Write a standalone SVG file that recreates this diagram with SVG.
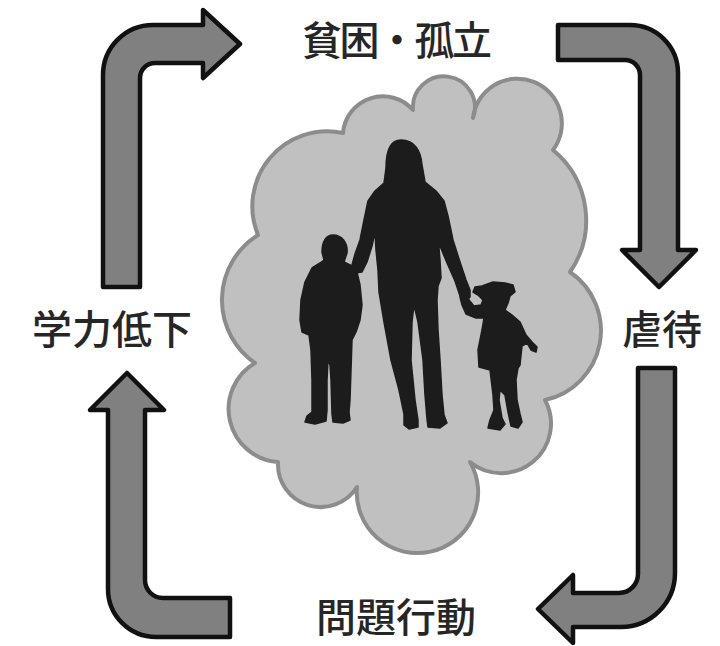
<svg xmlns="http://www.w3.org/2000/svg" width="720" height="646" viewBox="0 0 720 646">
  <style>
    .label { font-family: "Noto Sans CJK JP", "Noto Sans CJK SC", sans-serif; font-size: 40px; font-weight: 500; fill: #262626; text-anchor: middle; }
    .cycle { fill: #808080; stroke: #111111; stroke-width: 4.5; stroke-linejoin: round; }
    .cloud { fill: #c0c0c0; stroke: #8c8c8c; stroke-width: 4; stroke-linejoin: round; }
    .figure { fill: #1c1c1c; stroke: #1c1c1c; stroke-width: 1.5; stroke-linejoin: round; }
  </style>
  <rect width="720" height="646" fill="#ffffff"/>

  <!-- centre: family inside a cloud -->
  <g id="family">
    <path class="cloud" d="M 343,133 A 40,40 0 0 1 413,110 A 31,31 0 1 1 473,118 A 44.6,44.6 0 1 1 553,150 A 91,91 0 0 1 570,272 A 71,71 0 0 1 545,400 A 49.6,49.6 0 0 1 470,462 A 60.7,60.7 0 1 1 357,487 A 42.8,42.8 0 0 1 278,462 A 53.2,53.2 0 0 1 255,363 A 76.6,76.6 0 0 1 258,235 A 75,75 0 0 1 343,133 Z"/>
    <!-- mother -->
    <path class="figure" d="M 401,140 C 414,140 421,150 422,165 L 425,182 L 436,191 L 444,201 L 448,216 L 453,240 L 460,262 L 466,280 L 470,290 L 470,297 L 465,300 L 460,296 L 455,281 L 447,263 L 440,246 L 438,236 L 440,260 L 441,278 L 438,286 L 437,300 L 438,330 L 440,360 L 442,395 L 444,415 L 447,423 L 440,428 L 428,427 L 427,419 L 425,395 L 423,360 L 418,322 L 414,305 L 412,322 L 411,360 L 415,400 L 418,420 L 418,427 L 409,429 L 404,425 L 404,414 L 399,390 L 391,360 L 384,322 L 379,292 L 378,270 L 376,250 L 375,232 L 372,246 L 367,262 L 362,272 L 355,273 L 352,265 L 355,254 L 360,240 L 364,220 L 368,201 L 375,191 L 384,183 L 386,168 C 386,150 390,140 401,140 Z"/>
    <!-- boy -->
    <path class="figure" d="M 333,235 C 342,235 348,243 347,253 L 344,262 L 352,266 L 357,272 L 360,285 L 362,305 L 360,320 L 356,332 L 352,340 L 351,370 L 350,400 L 349,412 L 350,420 L 343,423 L 333,422 L 332,414 L 331,380 L 330,365 L 328,360 L 327,380 L 327,410 L 326,421 L 315,424 L 305,422 L 307,416 L 312,412 L 312,380 L 311,350 L 309,335 L 302,332 L 300,320 L 301,300 L 305,282 L 312,268 L 320,263 L 324,260 L 322,252 C 322,242 326,235 333,235 Z"/>
    <!-- girl -->
    <path class="figure" d="M 493,282 L 505,283 L 513,285 L 515,292 L 510,296 L 508,303 L 505,310 L 512,315 L 520,322 L 526,335 L 532,342 L 537,347 L 536,352 L 531,350 L 527,343 L 522,346 L 520,365 L 518,368 L 516,380 L 517,400 L 520,414 L 522,422 L 518,428 L 511,426 L 508,412 L 505,395 L 500,390 L 499,400 L 502,418 L 505,424 L 500,430 L 488,428 L 490,420 L 494,410 L 493,395 L 490,370 L 479,367 L 478,350 L 482,330 L 484,318 L 476,318 L 466,314 L 462,305 L 460,297 L 462,290 L 468,292 L 469,300 L 474,306 L 481,305 L 483,300 L 478,295 L 473,292 L 475,287 L 482,286 Z"/>
  </g>

  <!-- labels of the cycle -->
  <g id="poverty"><text class="label" x="397" y="55" textLength="190" lengthAdjust="spacing">貧困・孤立</text></g>
  <g id="abuse"><text class="label" x="662" y="344">虐待</text></g>
  <g id="behaviour"><text class="label" x="396" y="632">問題行動</text></g>
  <g id="learning"><text class="label" x="112" y="344">学力低下</text></g>

  <!-- bent arrows linking the stages clockwise -->
  <g id="connectors">
    <path class="cycle" d="M 103,287 L 103,75 A 50,50 0 0 1 153,25 L 203,25 L 203,10 L 240,44 L 203,78 L 203,63 L 155,63 A 15,15 0 0 0 140,78 L 140,287 Z"/>
    <path class="cycle" d="M 558,25 L 630,25 A 48,48 0 0 1 678,73 L 678,250 L 696,250 L 659,287 L 622,250 L 640,250 L 640,75 A 15,15 0 0 0 625,60 L 558,60 Z"/>
    <path class="cycle" d="M 638,368 L 675,368 L 675,573 A 54,54 0 0 1 621,627 L 573,627 L 573,643 L 538,609 L 573,575 L 573,593 L 619,593 A 19,19 0 0 0 638,574 Z"/>
    <path class="cycle" d="M 230,598 L 230,637 L 156,637 A 48,48 0 0 1 108,589 L 108,410 L 90,410 L 127,373 L 164,410 L 145,410 L 145,580 A 18,18 0 0 0 163,598 Z"/>
  </g>
</svg>
